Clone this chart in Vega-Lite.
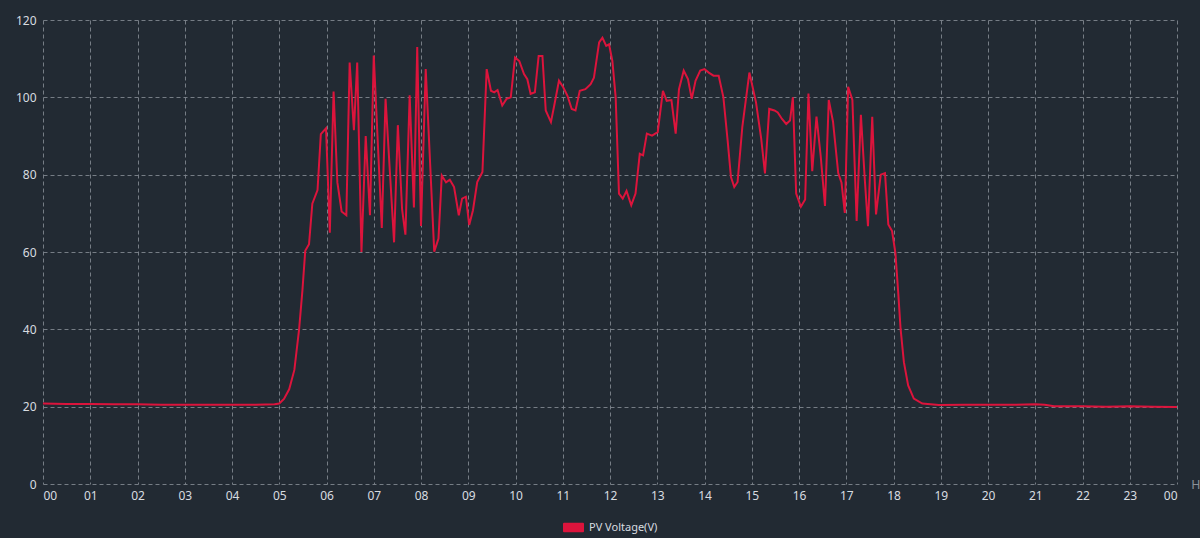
{
  "$schema": "https://vega.github.io/schema/vega-lite/v6.json",
  "width": 1134,
  "height": 464,
  "autosize": "none",
  "padding": {"left": 43, "top": 20, "right": 23, "bottom": 54},
  "background": "#222a33",
  "data": {"values": [
    {"h":0,"v":20.8},{"h":0.5,"v":20.7},{"h":1,"v":20.7},{"h":1.5,"v":20.6},{"h":2,"v":20.6},{"h":2.5,"v":20.5},{"h":3,"v":20.5},{"h":3.5,"v":20.5},{"h":4,"v":20.5},{"h":4.5,"v":20.5},{"h":4.9,"v":20.6},{"h":5.0,"v":20.8},
    {"h":5.1,"v":22},{"h":5.21,"v":24.5},{"h":5.32,"v":29.5},{"h":5.42,"v":40},{"h":5.49,"v":50},{"h":5.55,"v":60.3},{"h":5.63,"v":62},{"h":5.7,"v":72.5},{"h":5.81,"v":76},{"h":5.88,"v":90.5},{"h":5.99,"v":92},
    {"h":6.07,"v":65},{"h":6.15,"v":101.5},{"h":6.23,"v":78},{"h":6.32,"v":70.5},{"h":6.42,"v":69.5},{"h":6.49,"v":109},{"h":6.58,"v":91.5},{"h":6.65,"v":109},{"h":6.74,"v":60},{"h":6.83,"v":90},{"h":6.92,"v":69.5},
    {"h":7.0,"v":110.8},{"h":7.17,"v":66.2},{"h":7.25,"v":99.6},{"h":7.43,"v":62.5},{"h":7.51,"v":92.8},{"h":7.6,"v":71},{"h":7.67,"v":64.5},{"h":7.76,"v":100.5},{"h":7.85,"v":71.5},{"h":7.92,"v":113},{"h":8.0,"v":66.7},
    {"h":8.1,"v":107.3},{"h":8.28,"v":60.1},{"h":8.37,"v":63.5},{"h":8.44,"v":79.8},{"h":8.53,"v":78},{"h":8.61,"v":78.7},{"h":8.7,"v":76.8},{"h":8.8,"v":69.5},{"h":8.87,"v":73.8},{"h":8.95,"v":74.3},
    {"h":9.02,"v":67},{"h":9.1,"v":70.8},{"h":9.19,"v":78.1},{"h":9.3,"v":80.7},{"h":9.39,"v":107.3},{"h":9.48,"v":101.7},{"h":9.55,"v":101.3},{"h":9.62,"v":101.9},{"h":9.72,"v":97.9},{"h":9.81,"v":99.6},{"h":9.9,"v":100},
    {"h":9.99,"v":110.3},{"h":10.08,"v":109.4},{"h":10.18,"v":106},{"h":10.25,"v":104.7},{"h":10.32,"v":100.9},{"h":10.41,"v":101.3},{"h":10.49,"v":110.7},{"h":10.57,"v":110.7},{"h":10.64,"v":96.6},{"h":10.75,"v":93.6},{"h":10.82,"v":97.9},{"h":10.92,"v":104.3},
    {"h":11.01,"v":102.6},{"h":11.1,"v":100.4},{"h":11.19,"v":97},{"h":11.27,"v":96.6},{"h":11.36,"v":101.7},{"h":11.48,"v":102.1},{"h":11.59,"v":103.4},{"h":11.66,"v":105.1},{"h":11.77,"v":114.2},{"h":11.84,"v":115.4},{"h":11.92,"v":113.3},{"h":11.98,"v":113.7},
    {"h":12.05,"v":109.4},{"h":12.12,"v":100},{"h":12.19,"v":75.1},{"h":12.27,"v":73.8},{"h":12.35,"v":75.8},{"h":12.45,"v":72.1},{"h":12.54,"v":75.1},{"h":12.63,"v":85.4},{"h":12.7,"v":85},{"h":12.78,"v":90.6},{"h":12.89,"v":90.1},
    {"h":13.01,"v":91},{"h":13.12,"v":101.7},{"h":13.2,"v":99.1},{"h":13.3,"v":99.3},{"h":13.39,"v":90.6},{"h":13.46,"v":102.1},{"h":13.56,"v":106.9},{"h":13.65,"v":104.7},{"h":13.73,"v":99.6},{"h":13.81,"v":104.3},{"h":13.91,"v":106.9},
    {"h":14.0,"v":107.3},{"h":14.09,"v":106.4},{"h":14.19,"v":105.6},{"h":14.3,"v":105.6},{"h":14.4,"v":100},{"h":14.49,"v":88.8},{"h":14.56,"v":79.4},{"h":14.63,"v":76.8},{"h":14.7,"v":78.1},{"h":14.8,"v":92.3},{"h":14.95,"v":106.4},
    {"h":15.09,"v":98.7},{"h":15.2,"v":89.3},{"h":15.28,"v":80.3},{"h":15.37,"v":97},{"h":15.48,"v":96.6},{"h":15.55,"v":96.1},{"h":15.64,"v":94.4},{"h":15.73,"v":93.1},{"h":15.81,"v":94},{"h":15.87,"v":100},{"h":15.94,"v":75.1},
    {"h":16.04,"v":71.7},{"h":16.13,"v":73.6},{"h":16.2,"v":101},{"h":16.28,"v":80.9},{"h":16.37,"v":95},{"h":16.46,"v":84.7},{"h":16.55,"v":71.9},{"h":16.63,"v":99.3},{"h":16.72,"v":93.7},{"h":16.83,"v":80.4},{"h":16.9,"v":77.9},{"h":16.97,"v":70.1},
    {"h":17.04,"v":102.7},{"h":17.13,"v":99.3},{"h":17.22,"v":68},{"h":17.31,"v":95.5},{"h":17.39,"v":79.2},{"h":17.46,"v":66.7},{"h":17.55,"v":95},{"h":17.63,"v":69.7},{"h":17.73,"v":80},{"h":17.82,"v":80.4},{"h":17.89,"v":67.1},{"h":17.97,"v":65.4},
    {"h":18.04,"v":59.8},{"h":18.1,"v":49.5},{"h":18.15,"v":40.1},{"h":18.22,"v":31.5},{"h":18.31,"v":25.5},{"h":18.43,"v":22.1},{"h":18.61,"v":20.8},{"h":18.96,"v":20.4},
    {"h":19.5,"v":20.5},{"h":20,"v":20.5},{"h":20.5,"v":20.5},{"h":21,"v":20.6},{"h":21.2,"v":20.5},{"h":21.4,"v":20.1},{"h":22,"v":20.1},{"h":22.5,"v":20.0},{"h":23,"v":20.1},{"h":23.5,"v":20.0},{"h":24,"v":19.9}
  ]},
  "mark": {"type": "line", "strokeWidth": 2, "interpolate": "linear"},
  "encoding": {
    "x": {
      "field": "h", "type": "quantitative",
      "scale": {"domain": [0, 24], "nice": false, "zero": false},
      "axis": {
        "values": [0,1,2,3,4,5,6,7,8,9,10,11,12,13,14,15,16,17,18,19,20,21,22,23,24],
        "labelExpr": "datum.value == 24 ? '00' : format(datum.value, '02d')",
        "title": "H", "titleX": 1148, "titleY": 0, "titleAlign": "left", "titleBaseline": "middle",
        "titleFontWeight": "normal", "titleFontSize": 12, "titleColor": "#8a9097",
        "labelPadding": 6
      }
    },
    "y": {
      "field": "v", "type": "quantitative",
      "scale": {"domain": [0, 120], "nice": false},
      "axis": {"values": [0,20,40,60,80,100,120], "title": null, "labelPadding": 7}
    },
    "color": {
      "datum": "PV Voltage(V)",
      "scale": {"range": ["#dc143c"]},
      "legend": {
        "title": null, "orient": "none", "legendX": 520, "legendY": 497,
        "symbolType": "M-0.9,-0.45L0.9,-0.45Q1,-0.45 1,-0.35L1,0.35Q1,0.45 0.9,0.45L-0.9,0.45Q-1,0.45 -1,0.35L-1,-0.35Q-1,-0.45 -0.9,-0.45Z",
        "symbolSize": 441, "symbolStrokeWidth": 0, "symbolFillColor": "#dc143c",
        "labelColor": "#d8dce0", "labelFontSize": 11, "labelFont": "Noto Sans", "labelOffset": 5,
        "encode": {"symbols": {"update": {"fill": {"value": "#dc143c"}, "stroke": {"value": "transparent"}, "strokeWidth": {"value": 0}}}}
      }
    }
  },
  "config": {
    "view": {"stroke": null},
    "axis": {
      "domain": false, "ticks": false,
      "grid": true, "gridColor": "#7f868e", "gridDash": [4, 3], "gridWidth": 1, "gridOpacity": 0.9,
      "labelColor": "#d8dce0", "labelFont": "Noto Sans", "labelFontSize": 12
    }
  }
}
